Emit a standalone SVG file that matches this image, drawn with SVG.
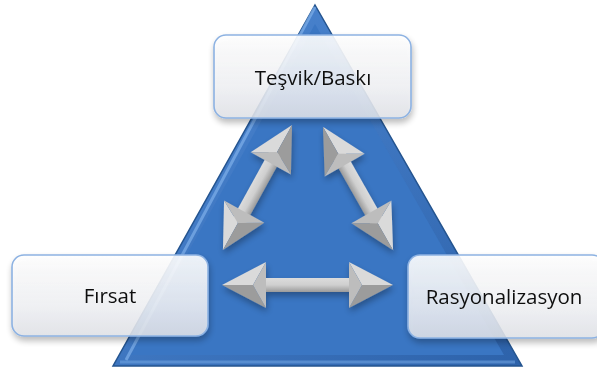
<svg xmlns="http://www.w3.org/2000/svg" xmlns:xlink="http://www.w3.org/1999/xlink" width="597" height="369" viewBox="0 0 597 369">
<style>
.lbl{font-family:"Open Sans","Liberation Sans",sans-serif;font-size:20.5px;fill:#111;text-anchor:middle}
.box{fill:url(#boxg);stroke:#8db2e2;stroke-width:1.6}
</style>
<defs>
<linearGradient id="tri" x1="0" y1="0" x2="1" y2="1">
<stop offset="0" stop-color="#4f8ad6"/><stop offset="1" stop-color="#2d62aa"/>
</linearGradient>
<linearGradient id="boxg" x1="0" y1="0" x2="0" y2="1">
<stop offset="0" stop-color="#ffffff" stop-opacity="0.9"/><stop offset="0.6" stop-color="#f2f3f6" stop-opacity="0.86"/><stop offset="1" stop-color="#e3e5ea" stop-opacity="0.86"/>
</linearGradient>
<linearGradient id="shaft" x1="0" y1="0" x2="0" y2="1">
<stop offset="0" stop-color="#dcdcdc"/><stop offset="0.5" stop-color="#cfcfcf"/><stop offset="1" stop-color="#9a9a9a"/>
</linearGradient>
<filter id="sh" x="-20%" y="-20%" width="140%" height="150%">
<feGaussianBlur in="SourceAlpha" stdDeviation="3"/><feOffset dx="1" dy="4"/>
<feComponentTransfer><feFuncA type="linear" slope="0.3"/></feComponentTransfer>
<feMerge><feMergeNode/><feMergeNode in="SourceGraphic"/></feMerge>
</filter>
<g id="head">
<polygon points="0,0 -44,-23 -31,0" fill="#dadada"/>
<polygon points="0,0 -31,0 -44,23" fill="#9c9c9c"/>
<polygon points="-44,-23 -31,0 -44,23" fill="#bdbdbd"/>
</g>
</defs>
<g id="triangle">
<path d="M315,5 L522,366 L113,366 Z" fill="url(#tri)" stroke="#24548f" stroke-width="1.5"/>
<path d="M315,24 L504,355 L131,355 Z" fill="#3a76c3"/>
<path d="M315,7 L126,360" stroke="#7fb0ea" stroke-width="3" opacity="0.7"/>
<path d="M120,362 L515,362" stroke="#6ea2e0" stroke-width="3" opacity="0.6"/>
</g>
<g id="connectors" filter="url(#sh)">
<g transform="translate(307.5,285)">
<rect x="-48" y="-7" width="96" height="14" fill="url(#shaft)"/>
<use xlink:href="#head" transform="translate(85.5,0)"/>
<use xlink:href="#head" transform="translate(-85.5,0) scale(-1,1)"/>
</g>
<g transform="translate(257.5,187.5) rotate(-61.1)">
<rect x="-40" y="-7" width="80" height="14" fill="url(#shaft)"/>
<use xlink:href="#head" transform="translate(71.5,0)"/>
<use xlink:href="#head" transform="translate(-71.5,0) scale(-1,1)"/>
</g>
<g transform="translate(358,188.5) rotate(60.4)">
<rect x="-40" y="-7" width="80" height="14" fill="url(#shaft)"/>
<use xlink:href="#head" transform="translate(71,0)"/>
<use xlink:href="#head" transform="translate(-71,0) scale(-1,1)"/>
</g>
</g>
<g id="node-tesvik" filter="url(#sh)">
<rect class="box" x="214" y="35" width="197" height="83" rx="12"/>
<text class="lbl" x="313" y="85">Teşvik/Baskı</text>
</g>
<g id="node-firsat" filter="url(#sh)">
<rect class="box" x="12" y="255" width="196" height="81" rx="12"/>
<text class="lbl" x="110" y="303">Fırsat</text>
</g>
<g id="node-rasyonalizasyon" filter="url(#sh)">
<rect class="box" x="408" y="255" width="196" height="83" rx="12"/>
<text class="lbl" x="504" y="304">Rasyonalizasyon</text>
</g>
</svg>
